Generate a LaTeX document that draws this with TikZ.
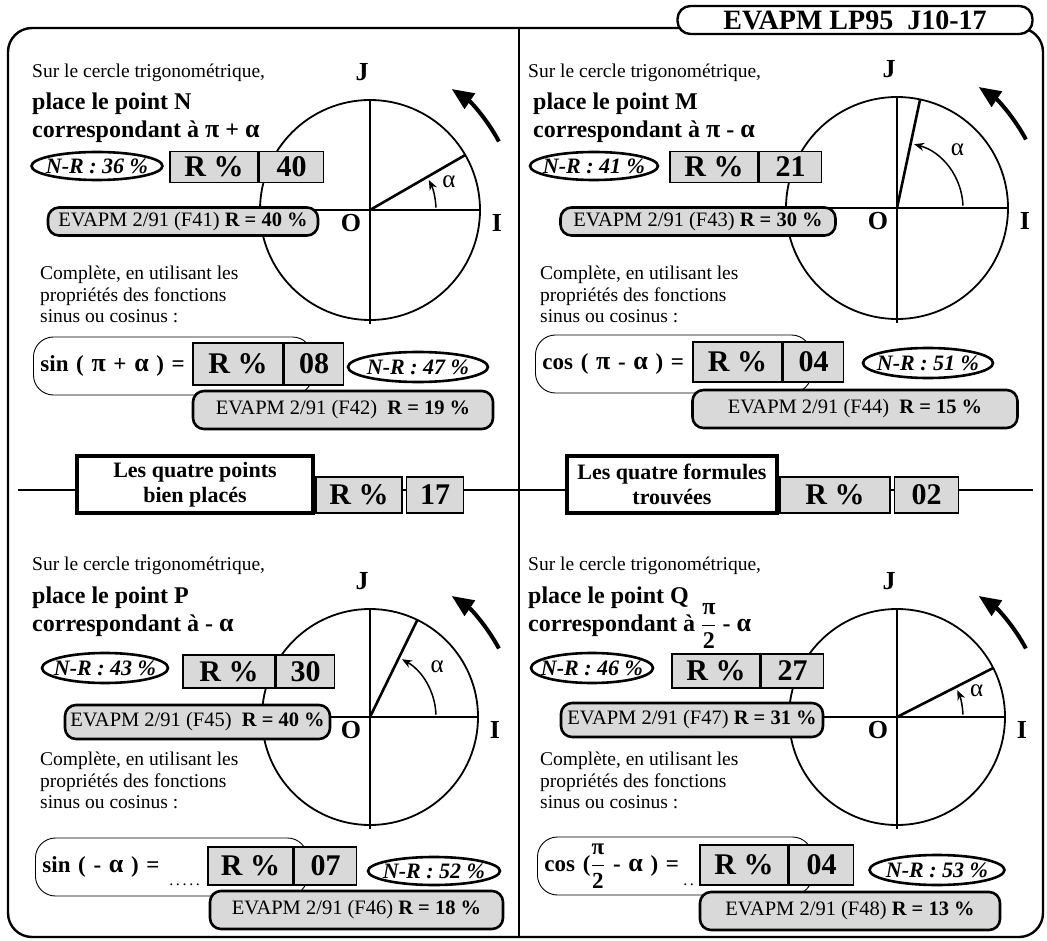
\documentclass[tikz,border=0pt]{standalone}
\usepackage{fontspec}
\setmainfont{Liberation Serif}
\usepackage{xcolor}
\usepackage{tikz}
\usetikzlibrary{positioning,calc,shapes.geometric,arrows.meta}
\definecolor{dotgray}{HTML}{D9D9D9}
\newcommand\fs[2]{\fontsize{#1}{#2}\selectfont}
\newcommand\gk[1]{{\fontsize{26}{26}\selectfont #1}}
\newcommand\pisur{$\displaystyle\frac{\hbox{π}}{\hbox{2}}$}
\tikzset{
  txt/.style={anchor=base west, inner sep=0pt, font=\fs{19.5}{21}},
  grastxt/.style={anchor=base west, inner sep=0pt, font=\bfseries\fs{24}{24}},
  cmpl/.style={anchor=north west, inner sep=0pt, align=left, font=\fs{19.5}{21.5}},
  rbox/.style={draw, line width=1.6pt, fill=dotgray, inner sep=0pt, minimum height=31pt, font=\bfseries\fs{30}{30}},
  nrell/.style={draw, ellipse, line width=2.6pt, fill=white, inner xsep=-12pt, inner ysep=0pt, minimum height=28pt, font=\bfseries\itshape\fs{22}{22}},
  evbox/.style={draw, line width=2.6pt, rounded corners=11pt, fill=dotgray, inner sep=0pt, minimum height=28pt, font=\fs{20.5}{20.5}},
  formbox/.style={draw, line width=0.9pt, rounded corners=20pt, anchor=west, align=left, inner xsep=7pt, inner ysep=0pt, minimum height=58pt, font=\bfseries\fs{23}{23}},
  band/.style={draw, line width=3.2pt, fill=white, align=center, inner sep=0pt, minimum height=57pt, font=\bfseries\fs{22}{25}},
  trait/.style={line width=1.8pt},
  axe/.style={line width=1.6pt},
  rayon/.style={line width=2.6pt},
  angarc/.style={line width=1.5pt, -{Stealth[length=10pt,width=8pt]}},
  bigarrow/.style={line width=4pt, -{Triangle[length=22pt,width=18pt]}},
  lbl/.style={inner sep=0pt, font=\bfseries\fs{26}{26}},
  alph/.style={inner sep=0pt, font=\fs{25}{25}},
  pointill/.style={anchor=south east, inner sep=0pt, font=\fs{16}{16}}
}

\begin{document}
\begin{tikzpicture}[x=1pt,y=1pt]
  \useasboundingbox (0,0) rectangle (1047,-941);

  % cadre
  \draw[line width=2.4pt, rounded corners=24pt] (8,-28) rectangle (1043,-937);
  \draw[line width=1.5pt] (519,-28) -- (519,-937);
  \coordinate (bandL) at (18,-490);
  \coordinate (bandR) at (1033,-490);
  \draw[line width=2pt] (bandL) -- (bandR);
  \node[draw, fill=white, line width=2.4pt, rounded corners=13pt, minimum width=355pt,
        minimum height=28pt, inner sep=0pt, font=\bfseries\fs{28}{28}] (titre) at (855,-20)
        {EVAPM LP95\ \ J10-17};

  % cercles
  \foreach \n/\x/\y/\r/\a [evaluate=\a as \la using \a/2+5] in
      {A/370/210/110/30, B/897/208/111/78, C/370/717/108/64, D/897/717/108/27} {
    \coordinate (c\n) at (\x,-\y);
    \draw[trait] (c\n) circle (\r);
    \draw[axe] ($(c\n)+(-\r,0)$) -- ($(c\n)+(\r,0)$);
    \draw[axe] ($(c\n)+(0,\r)$) -- ($(c\n)+(0,-\r-4)$);
    \draw[rayon] (c\n) -- ++(\a:\r);
    \draw[angarc] ($(c\n)+(2:66)$) arc (2:\a-3:66);
    \node[lbl] (O\n) at ($(c\n)+(-19,-13)$) {O};
    \node[lbl] (I\n) at ($(c\n)+(\r+17,-13)$) {I};
    \node[lbl] (J\n) at ($(c\n)+(-8,\r+28)$) {J};
    \node[alph] (al\n) at ($(c\n)+(\la:84)$) {α};
    \draw[bigarrow] ($(c\n)+(28:146)$) arc (28:56:146);
  }

  % point N
  \node[txt] (surA) at (32,-78) {Sur le cercle trigonométrique,};
  \node[grastxt] (ptA) at (32,-110) {place le point N};
  \node[grastxt] (corA) at (32,-138) {correspondant à \gk{π} + \gk{α}};
  \node[nrell, minimum width=131pt] (nrA) at (97,-166) {N-R : 36 \%};
  \node[rbox, minimum width=88pt] (rA) at (214,-167) {R \%};
  \node[rbox, minimum width=64pt, right=0pt of rA] (vA) {40};
  \node[evbox, minimum width=270pt] (evA) at (183,-221.5) {EVAPM 2/91 (F41) \textbf{R = 40 \%}};
  \node[cmpl] (cpA) at (40,-266) {Complète, en utilisant les\\propriétés des fonctions\\sinus ou cosinus :};
  \node[formbox, text width=265pt] (fA) at (33,-366) {sin ( \gk{π} + \gk{α} ) =};
  \node[rbox, minimum width=90pt, minimum height=42pt] (r2A) at (238,-364) {R \%};
  \node[rbox, minimum width=59pt, minimum height=42pt, right=0pt of r2A] (v2A) {08};
  \node[nrell, minimum width=140pt, minimum height=30pt] (nr2A) at (418,-367) {N-R : 47 \%};
  \node[evbox, minimum width=300pt, minimum height=38pt] (ev2A) at (343,-410) {EVAPM 2/91 (F42)\ \ \textbf{R = 19 \%}};

  % point M
  \node[txt] (surB) at (528,-78) {Sur le cercle trigonométrique,};
  \node[grastxt] (ptB) at (533,-110) {place le point M};
  \node[grastxt] (corB) at (533,-138) {correspondant à \gk{π} - \gk{α}};
  \node[nrell, minimum width=128pt] (nrB) at (594,-166) {N-R : 41 \%};
  \node[rbox, minimum width=88pt] (rB) at (714,-167) {R \%};
  \node[rbox, minimum width=62pt, right=0pt of rB] (vB) {21};
  \node[evbox, minimum width=275pt] (evB) at (698,-221.5) {EVAPM 2/91 (F43) \textbf{R = 30 \%}};
  \node[cmpl] (cpB) at (540,-266) {Complète, en utilisant les\\propriétés des fonctions\\sinus ou cosinus :};
  \node[formbox, text width=262pt] (fB) at (535,-364) {cos ( \gk{π} - \gk{α} ) =};
  \node[rbox, minimum width=89pt, minimum height=40pt] (r2B) at (737.5,-362) {R \%};
  \node[rbox, minimum width=60pt, minimum height=40pt, right=0pt of r2B] (v2B) {04};
  \node[nrell, minimum width=130pt, minimum height=30pt] (nr2B) at (928,-363) {N-R : 51 \%};
  \node[evbox, minimum width=325pt, minimum height=38pt] (ev2B) at (855,-409) {EVAPM 2/91 (F44)\ \ \textbf{R = 15 \%}};

  % bandeau
  \node[band, minimum width=236pt] (bpA) at (195,-484.5) {Les quatre points\\bien placés};
  \node[rbox, minimum width=86pt, minimum height=36pt] (rE) at (359,-495) {R \%};
  \node[rbox, minimum width=57pt, minimum height=36pt, right=3pt of rE] (vE) {17};
  \node[band, minimum width=210pt] (bpB) at (672,-484.5) {Les quatre formules\\trouvées};
  \node[rbox, minimum width=110pt, minimum height=36pt] (rF) at (835,-495) {R \%};
  \node[rbox, minimum width=64pt, minimum height=36pt, right=3pt of rF] (vF) {02};

  % point P
  \node[txt] (surC) at (32,-570) {Sur le cercle trigonométrique,};
  \node[grastxt] (ptC) at (32,-603) {place le point P};
  \node[grastxt] (corC) at (32,-631) {correspondant à - \gk{α}};
  \node[nrell, minimum width=126pt, minimum height=30pt] (nrC) at (105,-668) {N-R : 43 \%};
  \node[rbox, minimum width=92pt, minimum height=33pt] (rC) at (229,-671.5) {R \%};
  \node[rbox, minimum width=58pt, minimum height=33pt, right=0pt of rC] (vC) {30};
  \node[evbox, minimum width=265pt, minimum height=34pt] (evC) at (197.5,-722) {EVAPM 2/91 (F45)\ \ \textbf{R = 40 \%}};
  \node[cmpl] (cpC) at (40,-752) {Complète, en utilisant les\\propriétés des fonctions\\sinus ou cosinus :};
  \node[formbox, text width=258pt] (fC) at (35,-867) {sin ( - \gk{α} ) =};
  \node[rbox, minimum width=85pt, minimum height=38pt] (r2C) at (250.5,-866) {R \%};
  \node[rbox, minimum width=62pt, minimum height=38pt, right=0pt of r2C] (v2C) {07};
  \node[pointill] (ptsC) at ([xshift=-7pt]r2C.south west) {.\,.\,.\,.\,.};
  \node[nrell, minimum width=132pt, minimum height=28pt] (nr2C) at (434,-871) {N-R : 52 \%};
  \node[evbox, minimum width=293pt, minimum height=38pt] (ev2C) at (356.5,-910) {EVAPM 2/91 (F46)\ \textbf{R = 18 \%}};

  % point Q
  \node[txt] (surD) at (528,-570) {Sur le cercle trigonométrique,};
  \node[grastxt] (ptD) at (528,-603) {place le point Q};
  \node[grastxt] (corD) at (528,-631) {correspondant à \pisur\ - \gk{α}};
  \node[nrell, minimum width=122pt, minimum height=30pt] (nrD) at (592,-668) {N-R : 46 \%};
  \node[rbox, minimum width=88pt, minimum height=34pt] (rD) at (716,-671) {R \%};
  \node[rbox, minimum width=62pt, minimum height=34pt, right=0pt of rD] (vD) {27};
  \node[evbox, minimum width=262pt, minimum height=34pt] (evD) at (692,-720) {EVAPM 2/91 (F47)\ \textbf{R = 31 \%}};
  \node[cmpl] (cpD) at (540,-752) {Complète, en utilisant les\\propriétés des fonctions\\sinus ou cosinus :};
  \node[formbox, text width=261pt] (fD) at (537,-866) {cos (\pisur\ - \gk{α} ) =};
  \node[rbox, minimum width=88pt, minimum height=40pt] (r2D) at (744,-865) {R \%};
  \node[rbox, minimum width=64pt, minimum height=40pt, right=0pt of r2D] (v2D) {04};
  \node[pointill] (ptsD) at ([xshift=-5pt]r2D.south west) {.\,.};
  \node[nrell, minimum width=135pt, minimum height=30pt] (nr2D) at (937,-870) {N-R : 53 \%};
  \node[evbox, minimum width=300pt, minimum height=38pt] (ev2D) at (850,-911) {EVAPM 2/91 (F48)\ \textbf{R = 13 \%}};
\end{tikzpicture}
\end{document}
